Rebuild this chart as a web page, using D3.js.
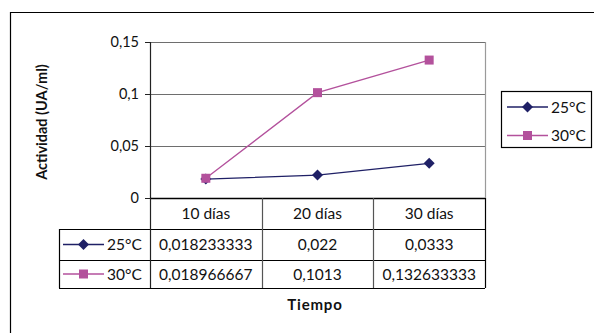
<!DOCTYPE html>
<html>
<head>
<meta charset="utf-8">
<script src="https://cdn.jsdelivr.net/npm/d3@7"></script>
<style>
  body { margin: 0; background: #fff; }
  text { font-family: Lato, "Open Sans", sans-serif; fill: #111; }
</style>
</head>
<body>
<div id="chart"></div>
<script>
// data
const categories = ["10 días", "20 días", "30 días"];
const series25 = [0.018233333, 0.022, 0.0333];
const series30 = [0.018966667, 0.1013, 0.132633333];
const seriesNames = ["25°C", "30°C"];
const tableLabels25 = ["0,018233333", "0,022", "0,0333"];
const tableLabels30 = ["0,018966667", "0,1013", "0,132633333"];
const yTicks = [0, 0.05, 0.1, 0.15];

const colors = ["#1f2066", "#b3519c"];

const W = 594, H = 333;
const svg = d3.select("#chart").append("svg")
  .attr("width", W).attr("height", H);

// outer frame (runs off the right and bottom edges)
svg.append("path")
  .attr("d", "M10.5,340 V12.5 H600")
  .attr("fill", "none").attr("stroke", "#000").attr("stroke-width", 1.2);

// plot area
const plot = { left: 150, right: 485, top: 42, bottom: 198 };

const x = d3.scaleBand().domain(categories).range([plot.left, plot.right]);
const y = d3.scaleLinear().domain([0, 0.15]).range([plot.bottom, plot.top]);

const fmt = d => d === 0 ? "0" : String(d).replace(".", ",");

// gridlines
svg.append("g").selectAll("line").data(yTicks.filter(d => d > 0)).join("line")
  .attr("x1", plot.left).attr("x2", plot.right)
  .attr("y1", d => Math.round(y(d)) + 0.5).attr("y2", d => Math.round(y(d)) + 0.5)
  .attr("stroke", "#6e6e6e").attr("stroke-width", 1.2);

// right border of plot
svg.append("line")
  .attr("x1", plot.right + 0.5).attr("x2", plot.right + 0.5)
  .attr("y1", plot.top).attr("y2", plot.bottom)
  .attr("stroke", "#9a9a9a").attr("stroke-width", 1.2);

// y axis
const yAxis = d3.axisLeft(y).tickValues(yTicks).tickFormat(fmt).tickSize(5).tickPadding(6);
const gy = svg.append("g").attr("transform", `translate(${plot.left},0)`).call(yAxis);
gy.select(".domain").attr("stroke", "#222").attr("stroke-width", 1.2);
gy.selectAll(".tick line").attr("stroke", "#222");
gy.selectAll(".tick text").style("font-size", "14.5px").style("font-family", "Lato, sans-serif").attr("fill", "#111");

// series
const line = d3.line().x((d, i) => x(categories[i]) + x.bandwidth() / 2).y(d => y(d));
[series25, series30].forEach((s, k) => {
  svg.append("path").datum(s).attr("d", line)
    .attr("fill", "none").attr("stroke", colors[k]).attr("stroke-width", 1.3);
});

function marker(g, k, cx, cy) {
  if (k === 0) {
    g.append("path").attr("d", "M0,-5.5L5.5,0L0,5.5L-5.5,0Z")
      .attr("transform", `translate(${cx},${cy})`).attr("fill", colors[0]);
  } else {
    g.append("rect").attr("x", cx - 4.5).attr("y", cy - 4.5)
      .attr("width", 9).attr("height", 9).attr("fill", colors[1]);
  }
}
const mk = svg.append("g");
series25.forEach((v, i) => marker(mk, 0, x(categories[i]) + x.bandwidth() / 2, y(v)));
series30.forEach((v, i) => marker(mk, 1, x(categories[i]) + x.bandwidth() / 2, y(v)));

// data table
const rowY = [198, 229, 260, 288];
const tableLeft = 59;
const tbl = svg.append("g");
// horizontal lines
tbl.append("line").attr("x1", plot.left).attr("x2", plot.right)
  .attr("y1", rowY[0] + 0.5).attr("y2", rowY[0] + 0.5).attr("stroke", "#000").attr("stroke-width", 1.6);
[1, 2, 3].forEach(r => {
  tbl.append("line").attr("x1", tableLeft).attr("x2", plot.right)
    .attr("y1", rowY[r] + 0.5).attr("y2", rowY[r] + 0.5).attr("stroke", "#000").attr("stroke-width", 1.2);
});
// vertical lines
tbl.append("line").attr("x1", tableLeft + 0.5).attr("x2", tableLeft + 0.5)
  .attr("y1", rowY[1]).attr("y2", rowY[3]).attr("stroke", "#000").attr("stroke-width", 1.2);
tbl.append("line").attr("x1", plot.left + 0.5).attr("x2", plot.left + 0.5)
  .attr("y1", rowY[0]).attr("y2", rowY[3]).attr("stroke", "#222").attr("stroke-width", 1.2);
categories.slice(1).forEach(c => {
  tbl.append("line").attr("x1", Math.round(x(c)) + 0.5).attr("x2", Math.round(x(c)) + 0.5)
    .attr("y1", rowY[0]).attr("y2", rowY[3]).attr("stroke", "#555").attr("stroke-width", 1.2);
});
tbl.append("line").attr("x1", plot.right + 0.5).attr("x2", plot.right + 0.5)
  .attr("y1", rowY[0]).attr("y2", rowY[3]).attr("stroke", "#000").attr("stroke-width", 1.2);

// table text
const cellText = (txt, cx, row) => tbl.append("text")
  .attr("x", cx).attr("y", (rowY[row] + rowY[row + 1]) / 2 + 5.5)
  .attr("text-anchor", "middle").style("font-size", "15.5px").text(txt);
categories.forEach((c, i) => {
  const cx = x(c) + x.bandwidth() / 2;
  cellText(c, cx, 0);
  cellText(tableLabels25[i], cx, 1);
  cellText(tableLabels30[i], cx, 2);
});
// legend keys in table
seriesNames.forEach((n, k) => {
  const cy = (rowY[k + 1] + rowY[k + 2]) / 2;
  tbl.append("line").attr("x1", 63).attr("x2", 104).attr("y1", cy).attr("y2", cy)
    .attr("stroke", colors[k]).attr("stroke-width", 1.3);
  marker(tbl, k, 83.5, cy);
  tbl.append("text").attr("x", 107).attr("y", cy + 5.5).style("font-size", "15.5px").text(n);
});

// legend box
const lg = svg.append("g");
lg.append("rect").attr("x", 501.5).attr("y", 91.5).attr("width", 90).attr("height", 56)
  .attr("fill", "#fff").attr("stroke", "#000").attr("stroke-width", 1.2);
seriesNames.forEach((n, k) => {
  const cy = 107 + k * 28.5;
  lg.append("line").attr("x1", 507).attr("x2", 548).attr("y1", cy).attr("y2", cy)
    .attr("stroke", colors[k]).attr("stroke-width", 1.3);
  marker(lg, k, 527.5, cy);
  lg.append("text").attr("x", 551).attr("y", cy + 5.5).style("font-size", "15.5px").text(n);
});

// axis titles
svg.append("text")
  .attr("transform", "translate(47,122) rotate(-90)")
  .attr("text-anchor", "middle")
  .style("font-size", "14.5px").style("font-weight", "bold")
  .text("Actividad (UA/ml)");
svg.append("text")
  .attr("x", 315).attr("y", 310)
  .attr("text-anchor", "middle")
  .style("font-size", "15px").style("font-weight", "bold").style("letter-spacing", "0.8px")
  .text("Tiempo");
</script>
</body>
</html>
